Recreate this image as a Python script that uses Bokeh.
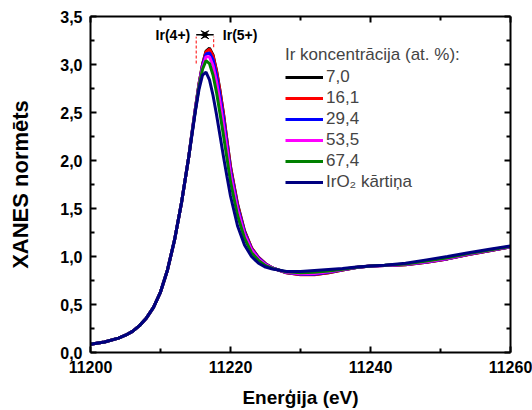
from bokeh.plotting import figure
from bokeh.models import (LinearAxis, FixedTicker, CustomJSTickFormatter, Range1d,
                          Legend, LegendItem, Arrow, VeeHead)
from bokeh.core.properties import value
from bokeh.embed import file_html
from bokeh.resources import INLINE

FONT = "Liberation Sans"

# ---------------- data ----------------
energy_rise = [11200, 11202, 11204, 11205, 11206, 11207, 11208, 11209, 11210,
               11211, 11212, 11213, 11214]
xanes_rise = [0.085, 0.11, 0.15, 0.18, 0.22, 0.28, 0.36, 0.47, 0.63,
              0.86, 1.17, 1.56, 2.02]

energy_top = [11214.5, 11215, 11215.5, 11216, 11216.5, 11217, 11217.5, 11218,
              11218.5, 11219, 11219.5, 11220, 11221, 11222, 11223, 11224, 11225,
              11226, 11228, 11230, 11232, 11234, 11236, 11238, 11240, 11242,
              11245, 11248, 11251, 11254, 11257, 11260]

y_7_0 = [2.29, 2.55, 2.80, 3.00, 3.14, 3.17, 3.10, 2.94, 2.73, 2.49, 2.21, 1.94,
         1.55, 1.27, 1.09, 0.99, 0.925, 0.88, 0.83, 0.812, 0.812, 0.83, 0.86,
         0.885, 0.90, 0.905, 0.915, 0.94, 0.975, 1.02, 1.06, 1.10]
y_16_1 = [2.29, 2.55, 2.80, 3.00, 3.13, 3.16, 3.09, 2.93, 2.72, 2.48, 2.20, 1.93,
          1.54, 1.26, 1.09, 0.99, 0.925, 0.88, 0.83, 0.81, 0.81, 0.83, 0.86,
          0.885, 0.90, 0.905, 0.915, 0.94, 0.975, 1.02, 1.06, 1.10]
y_29_4 = [2.29, 2.55, 2.79, 2.99, 3.11, 3.12, 3.05, 2.89, 2.68, 2.44, 2.17, 1.90,
          1.52, 1.25, 1.08, 0.985, 0.92, 0.88, 0.832, 0.815, 0.815, 0.835, 0.862,
          0.886, 0.90, 0.905, 0.916, 0.942, 0.977, 1.022, 1.062, 1.10]
y_53_5 = [2.28, 2.54, 2.78, 2.97, 3.08, 3.08, 2.99, 2.82, 2.61, 2.37, 2.12, 1.86,
          1.49, 1.23, 1.07, 0.975, 0.915, 0.878, 0.835, 0.82, 0.822, 0.84, 0.865,
          0.887, 0.90, 0.906, 0.918, 0.946, 0.98, 1.025, 1.064, 1.102]
y_67_4 = [2.28, 2.53, 2.77, 2.95, 3.04, 3.01, 2.89, 2.71, 2.49, 2.26, 2.02, 1.78,
          1.43, 1.19, 1.04, 0.96, 0.905, 0.875, 0.84, 0.83, 0.835, 0.85, 0.868,
          0.888, 0.90, 0.908, 0.922, 0.952, 0.988, 1.03, 1.068, 1.105]
y_iro2 = [2.27, 2.52, 2.74, 2.89, 2.92, 2.84, 2.68, 2.48, 2.26, 2.04, 1.83, 1.63,
          1.32, 1.12, 1.00, 0.93, 0.89, 0.87, 0.845, 0.845, 0.855, 0.865, 0.875,
          0.89, 0.90, 0.91, 0.93, 0.965, 1.00, 1.04, 1.075, 1.11]

series_labels = ["7,0", "16,1", "29,4", "53,5", "67,4", "IrO\u2082 k\u0101rti\u0146a"]
series_values = [y_7_0, y_16_1, y_29_4, y_53_5, y_67_4, y_iro2]
series_colors = ["#000000", "#ff0000", "#0000ff", "#ff00ff", "#008000", "#000080"]

x_ticks = [11200, 11220, 11240, 11260]
x_minor = [11210, 11230, 11250]
y_ticks = [0.0, 0.5, 1.0, 1.5, 2.0, 2.5, 3.0, 3.5]
y_minor = [0.25, 0.75, 1.25, 1.75, 2.25, 2.75, 3.25]

# oxidation state markers (edge positions)
marker_energy = [11215.1, 11217.6]
marker_low = [3.01, 3.18]
marker_high = 3.29
marker_labels = ["Ir(4+)", "Ir(5+)"]
marker_label_x = [11209.3, 11218.9]

# ---------------- figure ----------------
p = figure(width=532, height=410, output_backend="svg", toolbar_location=None,
           x_range=Range1d(11200, 11260), y_range=Range1d(0, 3.5),
           min_border_left=90, min_border_right=22, min_border_top=16,
           min_border_bottom=58, x_axis_location=None, y_axis_location=None)
p.grid.visible = False
p.outline_line_color = None
p.background_fill_color = "white"
p.border_fill_color = "white"

yfmt = CustomJSTickFormatter(code="return tick.toFixed(1).replace('.', ',');")


def style_axis(ax, labels=True):
    ax.axis_line_width = 2
    ax.axis_line_color = "black"
    ax.major_tick_in = 6
    ax.major_tick_out = 0
    ax.minor_tick_in = 4
    ax.minor_tick_out = 0
    ax.major_tick_line_width = 2
    ax.minor_tick_line_width = 2
    ax.major_label_text_font = FONT
    ax.major_label_text_font_style = "bold"
    ax.major_label_text_font_size = "16px"
    ax.major_label_text_color = "black" if labels else None
    ax.axis_label_text_font = FONT
    ax.axis_label_text_font_style = "bold"
    ax.axis_label_text_color = "black"


xb = LinearAxis(ticker=FixedTicker(ticks=x_ticks, minor_ticks=x_minor),
                axis_label="Ener\u0123ija (eV)")
style_axis(xb)
xb.major_label_standoff = 8
xb.axis_label_text_font_size = "19px"
xb.axis_label_standoff = 11
p.add_layout(xb, "below")

xt = LinearAxis(ticker=FixedTicker(ticks=x_ticks, minor_ticks=x_minor))
style_axis(xt, labels=False)
xt.major_label_text_font_size = "1px"
xt.major_label_standoff = 0
p.add_layout(xt, "above")

yl = LinearAxis(ticker=FixedTicker(ticks=y_ticks, minor_ticks=y_minor),
                formatter=yfmt, axis_label="XANES norm\u0113ts")
style_axis(yl)
yl.major_label_standoff = 8
yl.axis_label_text_font_size = "22px"
yl.axis_label_standoff = 24
p.add_layout(yl, "left")

yr = LinearAxis(ticker=FixedTicker(ticks=y_ticks, minor_ticks=y_minor))
style_axis(yr, labels=False)
yr.major_label_text_font_size = "1px"
yr.major_label_standoff = 0
p.add_layout(yr, "right")

items = []
for lab, yv, col in zip(series_labels, series_values, series_colors):
    r = p.line(energy_rise + energy_top, xanes_rise + yv, line_color=col,
               line_width=3)
    items.append(LegendItem(label=lab, renderers=[r]))

legend = Legend(items=items, location=(195, 160),
                title="Ir koncentr\u0101cija (at. %):",
                title_text_font=FONT, title_text_font_size="17px",
                title_text_font_style="normal", title_standoff=2,
                label_text_font=FONT, label_text_font_size="17px",
                glyph_width=38, glyph_height=20, label_height=20,
                label_standoff=3, spacing=1, padding=0, margin=0,
                border_line_color=None, background_fill_alpha=0)
p.add_layout(legend)

# markers
p.segment(x0=marker_energy, y0=marker_low, x1=marker_energy,
          y1=[marker_high] * 2, line_color="red", line_width=1,
          line_dash="3 2")
mid = sum(marker_energy) / 2
p.segment(x0=[marker_energy[0]], y0=[marker_high + 0.02], x1=[marker_energy[1]],
          y1=[marker_high + 0.02], line_color="black", line_width=1.5)
p.add_layout(Arrow(end=VeeHead(size=8, fill_color="black", line_color="black"),
                   x_start=mid, y_start=marker_high + 0.02,
                   x_end=mid - 0.6, y_end=marker_high + 0.02,
                   line_color="black", line_width=1.5))
p.add_layout(Arrow(end=VeeHead(size=8, fill_color="black", line_color="black"),
                   x_start=mid, y_start=marker_high + 0.02,
                   x_end=mid + 0.6, y_end=marker_high + 0.02,
                   line_color="black", line_width=1.5))
p.text(x=marker_label_x, y=[marker_high + 0.02] * 2, text=marker_labels,
       text_font=value(FONT), text_font_style="bold", text_font_size="14px",
       text_baseline="middle", text_align="left", text_color="black")

open("out.html", "w").write(file_html(p, INLINE))
